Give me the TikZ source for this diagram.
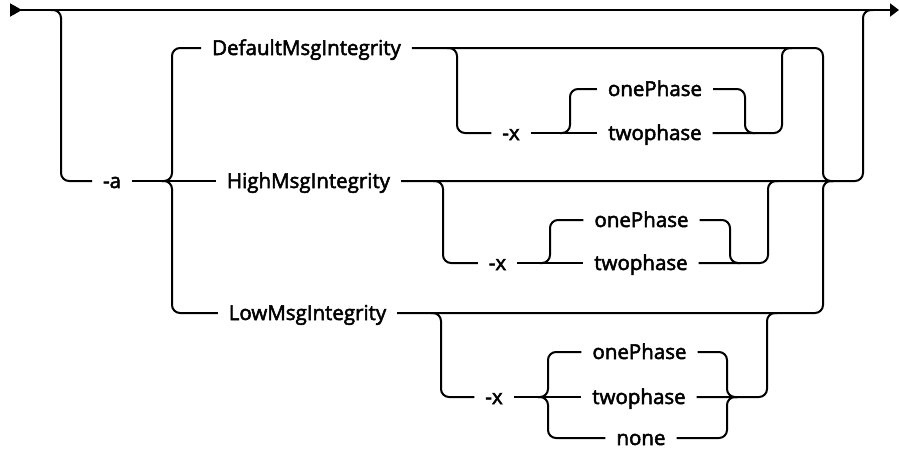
\documentclass[tikz,border=0pt]{standalone}
\usepackage{fontspec}
\setmainfont{Open Sans}[FakeBold=2.5]
\usetikzlibrary{arrows.meta}

\begin{document}
\begin{tikzpicture}[x=1pt, y=-1pt, line width=2pt, rounded corners=8pt,
    every node/.style={inner xsep=10pt, inner ysep=0pt, text height=14pt, text depth=0pt,
      font=\fontsize{20.5}{24}\selectfont}]
         \useasboundingbox (0, 0) rectangle (899, 453);
         \coordinate (S) at (10, 10);
         \coordinate (E) at (899, 10);
         \coordinate (L) at (61, 10);
         \coordinate (J2) at (172, 181);
         \coordinate (B1) at (457, 48);
         \coordinate (J4) at (570, 133);
         \coordinate (J5) at (745, 133);
         \coordinate (J6) at (782, 48);
         \coordinate (J3) at (823, 181);
         \coordinate (J7) at (863, 10);
         \coordinate (B2) at (443, 181);
         \coordinate (J8) at (550, 263);
         \coordinate (J9) at (730, 263);
         \coordinate (J10) at (768, 181);
         \coordinate (B3) at (441, 313);
         \coordinate (J12) at (548, 397);
         \coordinate (J13) at (727, 397);
         \coordinate (J14) at (767, 313);
         \node (A) at (112, 181) {-a};
         \node (DMI) at (306.5, 48) {DefaultMsgIntegrity};
         \node (HMI) at (308.5, 181) {HighMsgIntegrity};
         \node (LMI) at (307.5, 313) {LowMsgIntegrity};
         \node (X1) at (511, 133) {-x};
         \node (OP1) at (655, 89) {onePhase};
         \node (TP1) at (655, 133) {twophase};
         \node (X2) at (497.5, 263) {-x};
         \node (OP2) at (641.5, 220) {onePhase};
         \node (TP2) at (641, 263) {twophase};
         \node (X3) at (494, 397) {-x};
         \node (OP3) at (639.5, 352) {onePhase};
         \node (TP3) at (639, 397) {twophase};
         \node (NO3) at (641, 438) {none};
         \draw [{Triangle[reversed, length=12pt, width=13pt]}-{Triangle[length=9pt, width=13pt]}] (S) -- (E);
         \draw ([xshift=-10pt]L) -- (L) |- (A.west);
         \draw (A.east) -- (HMI.west);
         \draw ([xshift=-10pt]J2) -- (J2) |- (DMI.west);
         \draw ([xshift=-10pt]J2) -- (J2) |- (LMI.west);
         \draw (DMI.east) -| (J3) -- ([xshift=10pt]J3);
         \draw (LMI.east) -| (J3) -- ([xshift=10pt]J3);
         \draw (HMI.east) -| (J7) -- ([xshift=10pt]J7);
         \draw ([xshift=-10pt]B1) -- (B1) |- (X1.west);
         \draw (X1.east) -- (TP1.west);
         \draw ([xshift=-10pt]J4) -- (J4) |- (OP1.west);
         \draw (OP1.east) -| (J5) -- ([xshift=10pt]J5);
         \draw (TP1.east) -| (J6) -- ([xshift=10pt]J6);
         \draw ([xshift=-10pt]B2) -- (B2) |- (X2.west);
         \draw (X2.east) -- (TP2.west);
         \draw ([xshift=-10pt]J8) -- (J8) |- (OP2.west);
         \draw (OP2.east) -| (J9) -- ([xshift=10pt]J9);
         \draw (TP2.east) -| (J10) -- ([xshift=10pt]J10);
         \draw ([xshift=-10pt]B3) -- (B3) |- (X3.west);
         \draw (X3.east) -- (TP3.west);
         \draw ([xshift=-10pt]J12) -- (J12) |- (OP3.west);
         \draw ([xshift=-10pt]J12) -- (J12) |- (NO3.west);
         \draw (OP3.east) -| (J13) -- ([xshift=10pt]J13);
         \draw (NO3.east) -| (J13) -- ([xshift=10pt]J13);
         \draw (TP3.east) -| (J14) -- ([xshift=10pt]J14);
\end{tikzpicture}
\end{document}
